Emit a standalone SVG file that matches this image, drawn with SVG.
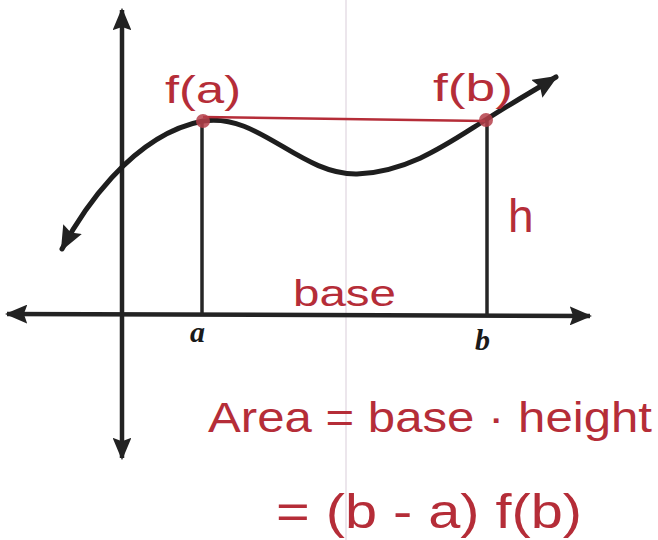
<svg xmlns="http://www.w3.org/2000/svg" width="658" height="540" viewBox="0 0 658 540">
<defs>
<marker id="ah" viewBox="0 0 10 10" refX="9" refY="5" markerWidth="5" markerHeight="4.2" markerUnits="strokeWidth" orient="auto-start-reverse" preserveAspectRatio="none">
<path d="M0,0 L10,5 L0,10 L1.5,5 z" fill="#222"/>
</marker>
<style>
.ax{stroke:#232323;stroke-width:4.5;fill:none;stroke-linecap:butt}
.crv{stroke:#1e1e1e;stroke-width:5;fill:none;stroke-linecap:round}
.vl{stroke:#262626;stroke-width:3.5}
.red{fill:#b52d38;font-family:"Liberation Sans",Arial,sans-serif}
.lbl{fill:#1a1a1a;font-family:"Liberation Serif","Times New Roman",serif;font-style:italic;font-weight:bold}
</style>
</defs>
<rect width="658" height="540" fill="#ffffff"/>
<line x1="346" y1="0" x2="346" y2="540" stroke="#ece6ec" stroke-width="2"/>
<g id="axes">
<line class="ax" x1="122" y1="458" x2="122" y2="10" marker-start="url(#ah)" marker-end="url(#ah)"/>
<line class="ax" x1="7" y1="314" x2="590" y2="316" marker-start="url(#ah)" marker-end="url(#ah)"/>
</g>
<g id="verticals">
<line class="vl" x1="202" y1="122" x2="202" y2="315"/>
<line class="vl" x1="487" y1="119" x2="487" y2="316"/>
</g>
<g id="curve">
<path class="crv" d="M62,249 C80,215 130,135 203,121 C258,112 300,175 357,174 C410,172 450,142 487,119 C510,104 535,90 556,77" marker-start="url(#ah)" marker-end="url(#ah)"/>
</g>
<g id="secant">
<line x1="203" y1="117" x2="485" y2="121" stroke="#b52d38" stroke-width="2.5"/>
<circle cx="203" cy="121" r="7" fill="#b5404a" fill-opacity="0.85"/>
<circle cx="486" cy="120" r="7" fill="#b5404a" fill-opacity="0.85"/>
</g>
<g id="labels">
<text class="red" x="165" y="103" font-size="38" textLength="76" lengthAdjust="spacingAndGlyphs">f(a)</text>
<text class="red" x="433" y="101" font-size="38" textLength="80" lengthAdjust="spacingAndGlyphs">f(b)</text>
<text class="red" x="508" y="232" font-size="46">h</text>
<text class="red" x="293" y="306" font-size="36" textLength="103" lengthAdjust="spacingAndGlyphs">base</text>
<text class="lbl" x="190" y="342" font-size="30">a</text>
<text class="lbl" x="475" y="350" font-size="30">b</text>
<text class="red" x="208" y="432" font-size="42" textLength="444" lengthAdjust="spacingAndGlyphs">Area = base · height</text>
<text class="red" x="276" y="528" font-size="48" textLength="306" lengthAdjust="spacingAndGlyphs">= (b - a) f(b)</text>
</g>
</svg>
